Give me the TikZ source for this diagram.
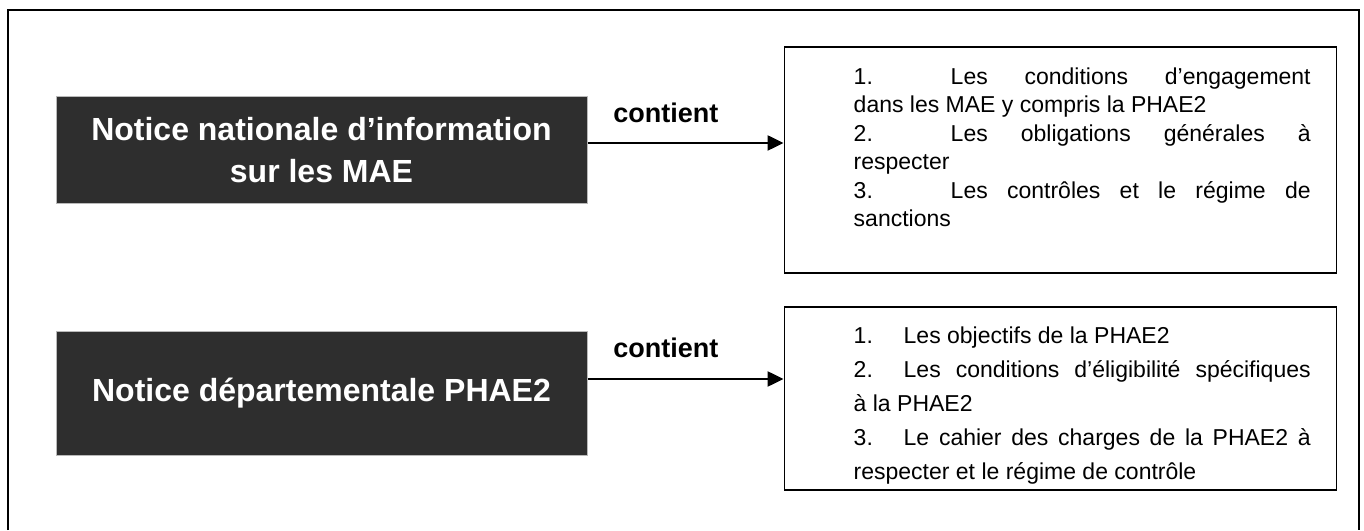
\documentclass[tikz,border=0pt]{standalone}
\usepackage{fontspec}
\setmainfont{Liberation Sans}
\usetikzlibrary{positioning, arrows.meta}
\tikzset{
  darkbox/.style={
    draw=gray!55, line width=1pt, fill=black!82,
    text=white, font=\fontsize{32}{42}\selectfont\bfseries,
    align=center, inner sep=0pt, minimum width=531pt
  },
  listbox/.style={draw, line width=1.6pt, minimum width=552pt, inner sep=0pt},
  listtext/.style={
    anchor=north west, inner sep=0pt, text width=457pt, align=justify,
    execute at begin node=\setlength{\parindent}{0pt}
  },
  link/.style={draw, line width=2.5pt, -{Triangle[length=16pt, width=15pt]}},
  linklabel/.style={font=\fontsize{27}{30}\selectfont\bfseries},
}
\newcommand{\numtab}[2]{\makebox[#1][l]{#2}}

\begin{document}
\begin{tikzpicture}[x=1pt, y=1pt]
  \useasboundingbox (0,0) rectangle (1364,530);

  % cadre ouvert en bas
  \draw[line width=2.5pt] (8,0) -- (8,520) -- (1359,520) -- (1359,0);

  % les deux notices
  \node[darkbox, minimum height=107pt] (nat) at (321.5,379.5)
    {Notice nationale d’information\\sur les MAE};
  \node[darkbox, minimum height=123pt, below=127pt of nat] (dep)
    {Notice départementale PHAE2};

  % contenus
  \node[listbox, minimum height=226pt, right=196pt of nat, yshift=-9.5pt] (list1) {};
  \node[listbox, minimum height=183pt, right=196pt of dep, yshift=-5pt] (list2) {};

  \node[listtext, font=\fontsize{23}{28.5}\selectfont] (txt1)
    at ([xshift=70pt, yshift=-21pt]list1.north west) {%
    \numtab{97pt}{1.}Les conditions d’engagement\linebreak
    dans les MAE y compris la PHAE2\par
    \numtab{97pt}{2.}Les obligations générales à\linebreak
    respecter\par
    \numtab{97pt}{3.}Les contrôles et le régime de\linebreak
    sanctions\par};

  \node[listtext, font=\fontsize{23}{34}\selectfont] (txt2)
    at ([xshift=70pt, yshift=-20pt]list2.north west) {%
    \numtab{50pt}{1.}Les objectifs de la PHAE2\par
    \numtab{50pt}{2.}Les conditions d’éligibilité spécifiques\linebreak
    à la PHAE2\par
    \numtab{50pt}{3.}Le cahier des charges de la PHAE2 à\linebreak
    respecter et le régime de contrôle\par};

  % fleches "contient"
  \coordinate (a1) at ([yshift=7.5pt]nat.east);
  \coordinate (a2) at ([yshift=14.5pt]dep.east);
  \draw[link] (a1) -- node[linklabel, pos=0.4, yshift=30pt] {contient} (a1 -| list1.west);
  \draw[link] (a2) -- node[linklabel, pos=0.4, yshift=31pt] {contient} (a2 -| list2.west);

\end{tikzpicture}
\end{document}
